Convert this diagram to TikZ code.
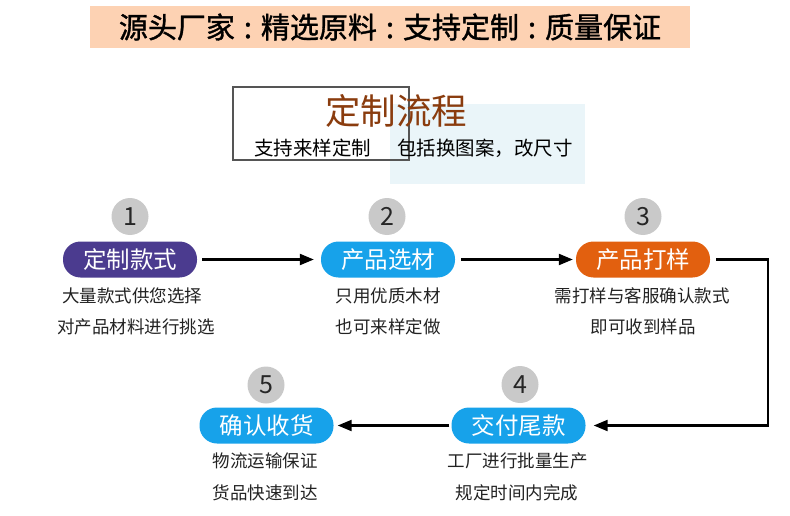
\documentclass[tikz,border=0pt]{standalone}
\usepackage{fontspec}
\newfontfamily\cjk{Noto Sans CJK SC}
\newfontfamily\cjkbold[FakeBold=1.2]{Noto Sans CJK SC}
\usetikzlibrary{arrows.meta}
\definecolor{banner}{HTML}{FDD2B3}
\definecolor{lightbg}{HTML}{EAF5F9}
\definecolor{titlebrown}{HTML}{8A3C0E}
\definecolor{outlinegray}{HTML}{555555}
\definecolor{circgray}{HTML}{C9C9C9}
\definecolor{pillpurple}{HTML}{4B3B8F}
\definecolor{pillblue}{HTML}{17A2EA}
\definecolor{pillorange}{HTML}{E2600F}
\definecolor{desctext}{HTML}{222222}
\newcommand{\bancolon}{\hspace{9pt}:\hspace{9pt}}
\begin{document}
\begin{tikzpicture}[x=1pt,y=-1pt,
  pill/.style={rounded corners=17.5pt, minimum width=134pt, minimum height=36pt, inner sep=0pt,
    text=white, font=\cjk\fontsize{23.5}{23.5}\selectfont},
  numcirc/.style={circle, fill=circgray, minimum size=37pt, inner sep=0pt,
    font=\cjk\fontsize{25}{25}\selectfont, text=black!85},
  desc/.style={inner sep=0pt, text=desctext, font=\cjk\fontsize{17.5}{17.5}\selectfont},
  flow/.style={line width=2.2pt, -{Triangle[length=14pt,width=11pt]}}
]
\useasboundingbox (0,0) rectangle (790,516);
% banner
\node[fill=banner, minimum width=600pt, minimum height=42pt, inner sep=0pt,
  font=\cjkbold\fontsize{29}{29}\selectfont] (banner) at (390,27)
  {源头厂家\bancolon 精选原料\bancolon 支持定制\bancolon 质量保证};
% title block
\node[fill=lightbg, minimum width=195pt, minimum height=80pt, inner sep=0pt] (bg) at (487.5,144) {};
\node[draw=outlinegray, line width=2pt, minimum width=176pt, minimum height=73pt, inner sep=0pt] (frame) at (321,123.5) {};
\node[inner sep=0pt, text=titlebrown, font=\cjk\fontsize{35.5}{35.5}\selectfont] (title) at (396,111) {定制流程};
\node[inner sep=0pt, text=black, font=\cjk\fontsize{19.5}{19.5}\selectfont] (sub1) at (312.5,148) {支持来样定制};
\node[inner sep=0pt, text=black, font=\cjk\fontsize{19.5}{19.5}\selectfont] (sub2) at (485,148) {包括换图案，改尺寸};
% step 1
\node[numcirc] (n1) at (130,216.5) {1};
\node[pill, fill=pillpurple] (p1) at (130,259.5) {定制款式};
\node[desc] (d1a) at (132,296) {大量款式供您选择};
\node[desc] (d1b) at (136,327) {对产品材料进行挑选};
% step 2
\node[numcirc] (n2) at (387,216.5) {2};
\node[pill, fill=pillblue] (p2) at (388,259.5) {产品选材};
\node[desc] (d2a) at (388,296) {只用优质木材};
\node[desc] (d2b) at (388,327) {也可来样定做};
% step 3
\node[numcirc] (n3) at (643,216.5) {3};
\node[pill, fill=pillorange] (p3) at (643,259.5) {产品打样};
\node[desc] (d3a) at (642,296) {需打样与客服确认款式};
\node[desc] (d3b) at (643,327) {即可收到样品};
% step 4
\node[numcirc] (n4) at (520,384.5) {4};
\node[pill, fill=pillblue] (p4) at (518.5,425.5) {交付尾款};
\node[desc] (d4a) at (517.5,461) {工厂进行批量生产};
\node[desc] (d4b) at (517,493) {规定时间内完成};
% step 5
\node[numcirc] (n5) at (266,385) {5};
\node[pill, fill=pillblue] (p5) at (266.5,425.5) {确认收货};
\node[desc] (d5a) at (265,461) {物流运输保证};
\node[desc] (d5b) at (265,493) {货品快速到达};
% connectors
\coordinate (turn) at (768,259.5);
\draw[flow, shorten <=5pt, shorten >=7pt] (p1) -- (p2);
\draw[flow, shorten <=6pt, shorten >=3pt] (p2) -- (p3);
\draw[flow, shorten <=6pt, shorten >=8pt] (p3) -- (turn) |- (p4);
\draw[flow, shorten <=2pt, shorten >=4pt] (p4) -- (p5);
\end{tikzpicture}
\end{document}
